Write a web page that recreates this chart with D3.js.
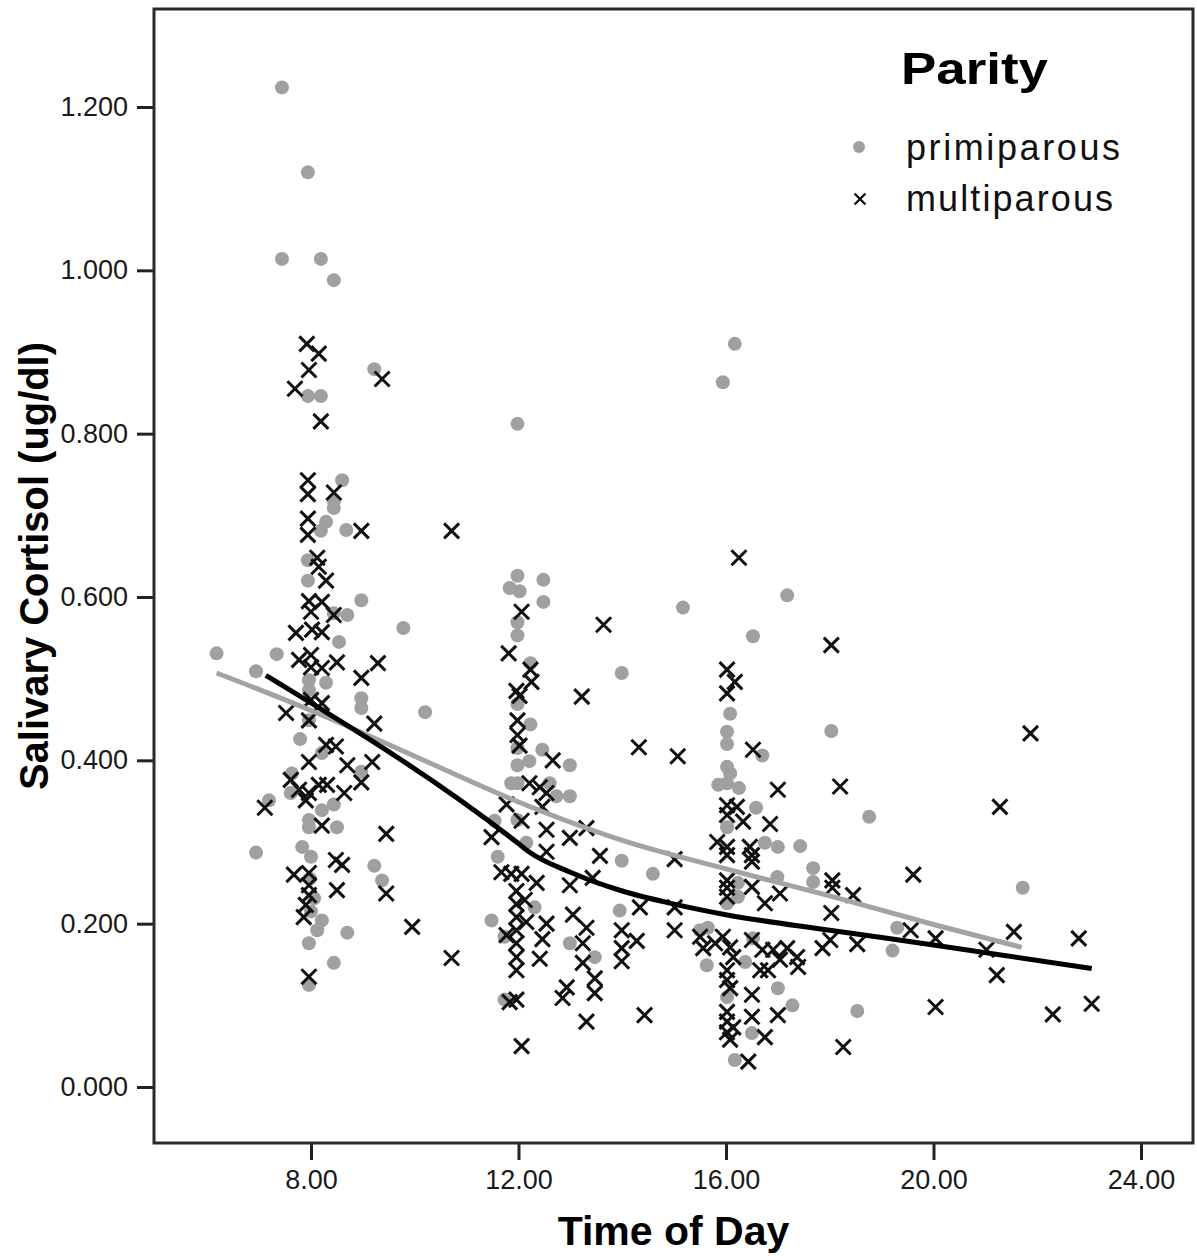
<!DOCTYPE html>
<html>
<head>
<meta charset="utf-8">
<script src="https://cdn.jsdelivr.net/npm/d3@7"></script>
<style>
  body { margin: 0; background: #fff; }
  text { font-family: "Liberation Sans", Arial, sans-serif; }
</style>
</head>
<body>
<div id="chart"></div>
<script>
// values: [time of day (h), salivary cortisol (ug/dl)]
const primiparous = [
  [7.44,1.224],[7.94,1.120],[7.44,1.014],[8.19,1.014],[8.44,0.988],[9.22,0.879],[7.94,0.846],[8.19,0.846],
  [8.60,0.743],[8.44,0.717],[8.44,0.709],[8.29,0.692],[8.19,0.681],[8.68,0.682],[7.94,0.645],[7.94,0.620],
  [8.97,0.596],[8.44,0.580],[8.70,0.578],
  [9.78,0.562],[8.54,0.545],[6.18,0.531],[7.34,0.530],[6.94,0.509],[7.96,0.498],[7.96,0.486],[8.29,0.495],
  [8.97,0.476],[8.97,0.464],[10.20,0.459],[7.96,0.449],[7.79,0.426],[8.21,0.409],[8.97,0.386],[7.63,0.384],
  [7.61,0.360],[7.19,0.351],[8.21,0.339],[8.44,0.346],[7.96,0.327],[7.96,0.318],[8.50,0.318],[6.94,0.287],
  [7.83,0.294],[8.00,0.282],[9.22,0.271],[9.37,0.253],[8.06,0.231],[8.21,0.204],[8.12,0.192],[8.70,0.189],
  [7.96,0.176],[8.44,0.152],[7.96,0.125],[7.98,0.255],[8.00,0.215],
  [11.98,0.812],[11.98,0.626],[12.48,0.621],[11.83,0.611],[12.02,0.607],[12.48,0.594],[11.98,0.569],[11.98,0.553],
  [15.17,0.587],[13.99,0.507],[12.23,0.519],[11.98,0.469],[12.23,0.444],[12.46,0.413],[12.99,0.394],[11.98,0.415],
  [11.98,0.394],[11.98,0.372],[12.21,0.399],[11.86,0.372],[12.60,0.372],[12.99,0.356],[12.73,0.356],[11.54,0.326],
  [11.98,0.327],[12.15,0.299],[11.60,0.282],[13.99,0.277],[14.59,0.261],[13.95,0.216],[12.31,0.220],[11.48,0.204],
  [11.73,0.184],[12.99,0.176],[13.47,0.159],[11.73,0.107],
  [16.17,0.910],[15.94,0.863],[17.18,0.602],[16.52,0.552],[16.08,0.457],[16.02,0.435],[16.02,0.420],[18.03,0.436],
  [16.70,0.406],[16.02,0.392],[16.08,0.384],[15.85,0.370],[16.02,0.372],[16.25,0.366],[16.58,0.342],[18.76,0.331],
  [16.02,0.318],[16.75,0.299],[17.00,0.294],[17.43,0.295],[17.68,0.268],[17.68,0.251],[16.99,0.257],[16.23,0.250],
  [16.23,0.233],[16.02,0.225],[19.30,0.195],[19.21,0.167],[15.50,0.192],[15.65,0.195],[16.52,0.182],[15.63,0.149],
  [16.37,0.153],[17.00,0.121],[17.28,0.100],[18.53,0.093],[16.02,0.110],[16.50,0.066],[16.17,0.033],
  [21.72,0.244]
];

const multiparous = [
  [7.92,0.910],[8.15,0.898],[7.96,0.878],[7.69,0.855],[9.37,0.867],[8.19,0.815],[7.94,0.743],[7.94,0.726],
  [8.44,0.728],[7.94,0.696],[7.94,0.676],[8.97,0.681],[10.71,0.681],[8.12,0.648],[8.15,0.637],[8.29,0.620],
  [7.96,0.595],[8.21,0.594],[8.00,0.582],[8.44,0.578],
  [7.71,0.556],[8.02,0.560],[8.21,0.557],[7.77,0.523],[8.00,0.529],[8.00,0.514],[8.21,0.513],[8.50,0.520],
  [9.29,0.519],[8.97,0.501],[8.00,0.474],[8.21,0.470],[7.52,0.458],[7.96,0.449],[9.22,0.445],[8.29,0.419],
  [8.48,0.417],[7.96,0.398],[8.70,0.394],[9.18,0.398],[8.97,0.373],[7.61,0.376],[7.77,0.364],[7.96,0.360],
  [8.15,0.370],[8.31,0.370],[7.90,0.351],[8.64,0.360],[7.11,0.342],[8.21,0.320],[9.45,0.310],[8.48,0.278],
  [8.60,0.272],[7.67,0.260],[7.96,0.262],[7.96,0.247],[7.96,0.235],[7.90,0.223],[8.50,0.241],[9.45,0.237],
  [7.86,0.208],[9.95,0.196],[10.71,0.158],[7.96,0.135],
  [12.06,0.582],[13.64,0.566],[11.81,0.531],[12.23,0.511],[12.25,0.496],[11.96,0.485],[12.02,0.479],[13.22,0.478],
  [11.98,0.449],[11.98,0.431],[12.02,0.418],[14.32,0.416],[15.07,0.405],[12.66,0.400],[12.21,0.372],[12.41,0.367],
  [12.54,0.360],[11.77,0.346],[12.46,0.343],[12.06,0.326],[11.48,0.306],[12.54,0.315],[12.99,0.305],[13.31,0.317],
  [12.54,0.288],[13.57,0.283],[15.01,0.279],[11.67,0.263],[11.86,0.261],[12.06,0.261],[12.35,0.250],[12.99,0.247],
  [13.43,0.256],[11.96,0.240],[11.96,0.224],[11.96,0.208],[11.96,0.192],[11.96,0.176],[11.96,0.159],[11.96,0.143],
  [12.12,0.229],[12.15,0.202],[11.77,0.186],[12.54,0.200],[12.46,0.181],[13.05,0.211],[13.31,0.195],[13.24,0.176],
  [13.99,0.192],[13.99,0.170],[13.99,0.154],[14.28,0.179],[14.34,0.220],[15.01,0.220],[15.01,0.192],[12.41,0.157],
  [13.24,0.152],[13.47,0.133],[13.47,0.115],[12.93,0.122],[12.85,0.109],[11.96,0.107],[11.83,0.104],[13.31,0.080],
  [14.43,0.088],[12.06,0.050],
  [16.25,0.648],[18.03,0.541],[16.02,0.511],[16.17,0.496],[16.02,0.482],[16.52,0.413],
  [17.00,0.364],[18.20,0.368],[16.02,0.345],[16.21,0.343],[16.02,0.333],[16.33,0.325],[16.85,0.322],[15.83,0.300],
  [16.02,0.294],[16.46,0.294],[16.50,0.284],[16.02,0.284],[16.50,0.276],[19.61,0.260],[16.02,0.253],[16.02,0.244],
  [16.02,0.233],[16.50,0.245],[17.04,0.237],[18.05,0.253],[18.05,0.244],[18.45,0.235],[16.75,0.225],[18.03,0.213],
  [19.56,0.192],[15.50,0.184],[15.56,0.170],[15.79,0.176],[15.94,0.184],[16.08,0.171],[16.14,0.159],[16.50,0.180],
  [16.70,0.168],[16.91,0.168],[17.18,0.170],[17.04,0.156],[16.81,0.143],[16.66,0.143],[17.37,0.159],[17.39,0.147],
  [17.86,0.170],[18.01,0.180],[18.53,0.175],[16.02,0.143],[16.02,0.131],[16.08,0.121],[16.50,0.113],[16.02,0.092],
  [16.02,0.080],[16.02,0.067],[16.14,0.073],[16.08,0.058],[16.50,0.086],[17.00,0.088],[16.75,0.061],[18.26,0.049],
  [16.43,0.031],
  [21.87,0.433],[21.28,0.343],[21.55,0.190],[20.04,0.182],[22.80,0.182],[21.02,0.168],[21.22,0.137],[20.04,0.098],
  [22.30,0.089],[23.05,0.102]
];

// fit lines (loess) per group
const primFit = [[6.18,0.507],[8,0.461],[10,0.405],[12,0.349],[14,0.302],[16,0.267],[18,0.234],[20,0.199],[21.70,0.171]];
const multiFit = [[7.13,0.504],[11.98,0.299],[12.2,0.288],[13,0.263],[14,0.240],[15,0.224],[16,0.211],[18,0.192],[20,0.174],[23.05,0.145]];

const xTicks = [8, 12, 16, 20, 24];
const yTicks = [0, 0.2, 0.4, 0.6, 0.8, 1.0, 1.2];
const groups = ["primiparous", "multiparous"];

const width = 1197, height = 1256;
const frame = {left: 154, right: 1193, top: 9, bottom: 1143};

let svg = d3.select("#chart")
    .append("svg")
    .attr("width", width)
    .attr("height", height);

svg.append("rect").attr("width", width).attr("height", height).attr("fill", "#fff");

let x = d3.scaleLinear().domain([8, 24]).range([311, 1141]);
let y = d3.scaleLinear().domain([0, 1.2]).range([1087, 107]);

// axes
let yAxis = svg.append("g")
    .attr("transform", `translate(${frame.left}, 0)`)
    .call(d3.axisLeft(y).tickValues(yTicks).tickSize(17).tickPadding(9).tickFormat(d3.format(".3f")));

let xAxis = svg.append("g")
    .attr("transform", `translate(0, ${frame.bottom})`)
    .call(d3.axisBottom(x).tickValues(xTicks).tickSize(17).tickPadding(10).tickFormat(d3.format(".2f")));

[xAxis, yAxis].forEach(function(a) {
    a.select(".domain").remove();
    a.selectAll(".tick line").attr("stroke", "#222").attr("stroke-width", 3);
    a.selectAll(".tick text").attr("fill", "#1a1a1a").style("font-size", "27px")
        .style("font-family", "'Liberation Sans', Arial, sans-serif");
});

// frame
svg.append("rect")
    .attr("x", frame.left)
    .attr("y", frame.top)
    .attr("width", frame.right - frame.left)
    .attr("height", frame.bottom - frame.top)
    .attr("fill", "none")
    .attr("stroke", "#2a2a2a")
    .attr("stroke-width", 3);

// points
svg.append("g").selectAll("circle")
    .data(primiparous)
    .enter()
    .append("circle")
    .attr("cx", function(d) { return x(d[0]); })
    .attr("cy", function(d) { return y(d[1]); })
    .attr("r", 7)
    .attr("fill", "#a0a0a0");

let cross = "M-7.5,-7.5L7.5,7.5M-7.5,7.5L7.5,-7.5";
svg.append("g").selectAll("path")
    .data(multiparous)
    .enter()
    .append("path")
    .attr("transform", function(d) { return `translate(${x(d[0])}, ${y(d[1])})`; })
    .attr("d", cross)
    .attr("stroke", "#111")
    .attr("stroke-width", 3)
    .attr("fill", "none");

// fit lines
let line = d3.line()
    .x(function(d) { return x(d[0]); })
    .y(function(d) { return y(d[1]); })
    .curve(d3.curveMonotoneX);

svg.append("path")
    .datum(primFit)
    .attr("d", line)
    .attr("fill", "none")
    .attr("stroke", "#a3a3a3")
    .attr("stroke-width", 5);

svg.append("path")
    .datum(multiFit)
    .attr("d", line)
    .attr("fill", "none")
    .attr("stroke", "#000")
    .attr("stroke-width", 5);

// axis titles
svg.append("text")
    .attr("x", (frame.left + frame.right) / 2)
    .attr("y", 1245)
    .style("text-anchor", "middle")
    .style("font-size", "41px")
    .style("font-weight", "bold")
    .text("Time of Day");

svg.append("text")
    .attr("transform", `translate(48, 566) rotate(-90)`)
    .style("text-anchor", "middle")
    .style("font-size", "40px")
    .style("font-weight", "bold")
    .attr("textLength", 448)
    .attr("lengthAdjust", "spacingAndGlyphs")
    .text("Salivary Cortisol (ug/dl)");

// legend
let legend = svg.append("g");

legend.append("text")
    .attr("x", 901)
    .attr("y", 84)
    .style("font-size", "45px")
    .style("font-weight", "bold")
    .attr("textLength", 147)
    .attr("lengthAdjust", "spacingAndGlyphs")
    .text("Parity");

legend.append("circle")
    .attr("cx", 859)
    .attr("cy", 147)
    .attr("r", 6)
    .attr("fill", "#a0a0a0");

legend.append("path")
    .attr("transform", "translate(860, 199)")
    .attr("d", "M-5.5,-5.5L5.5,5.5M-5.5,5.5L5.5,-5.5")
    .attr("stroke", "#111")
    .attr("stroke-width", 2.4);

legend.selectAll("text.item")
    .data(groups)
    .enter()
    .append("text")
    .attr("class", "item")
    .attr("x", 906)
    .attr("y", function(d, i) { return 160 + i * 51; })
    .style("font-size", "36px")
    .attr("fill", "#111")
    .attr("textLength", function(d, i) { return i === 0 ? 214 : 207; })
    .text(function(d) { return d; });
</script>
</body>
</html>
